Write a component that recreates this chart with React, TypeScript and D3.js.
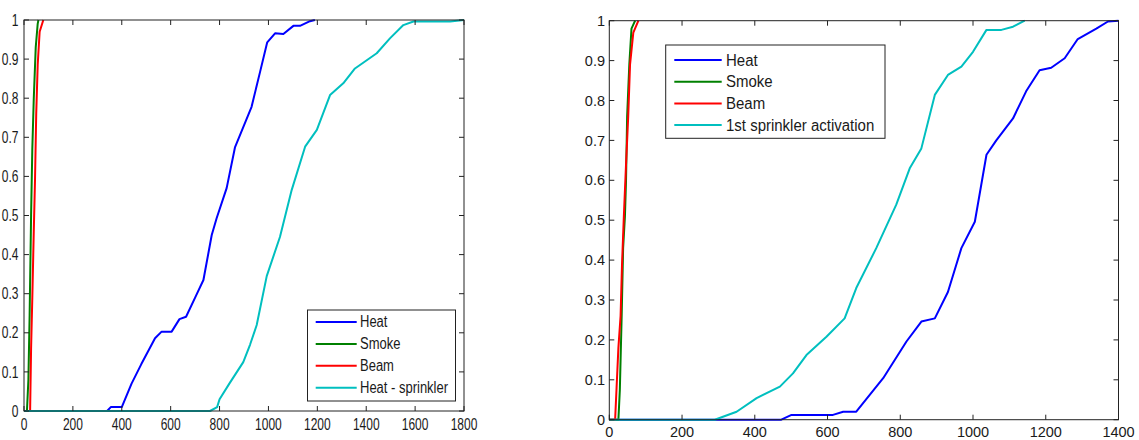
import React from "react";
import * as d3 from "d3";

type Pt = [number, number];

// ---------- Data (left panel) ----------
const leftXTicks = [0, 200, 400, 600, 800, 1000, 1200, 1400, 1600, 1800];
const yTicks = [0, 0.1, 0.2, 0.3, 0.4, 0.5, 0.6, 0.7, 0.8, 0.9, 1];

const leftHeat: Pt[] = [
  [0, 0], [340, 0], [355, 0.01], [400, 0.01], [440, 0.07], [480, 0.12], [536, 0.186],
  [563, 0.203], [604, 0.203], [636, 0.235], [663, 0.241], [700, 0.29], [734, 0.335],
  [768, 0.45], [788, 0.493], [829, 0.57], [863, 0.674], [931, 0.778], [966, 0.868],
  [995, 0.943], [1027, 0.966], [1061, 0.964], [1102, 0.985], [1129, 0.985], [1170, 0.997], [1190, 1],
];
const leftSmoke: Pt[] = [
  [0, 0], [12, 0], [18, 0.08], [23, 0.245], [29, 0.5], [34, 0.67], [40, 0.8], [48, 0.93], [56, 0.99], [59, 1],
];
const leftBeam: Pt[] = [
  [0, 0], [25, 0], [29, 0.16], [34, 0.29], [40, 0.46], [45, 0.59], [50, 0.76], [56, 0.885], [64, 0.97], [79, 1],
];
const leftHeatSprinkler: Pt[] = [
  [0, 0], [761, 0], [790, 0.01], [800, 0.03], [840, 0.07], [897, 0.125], [925, 0.17], [952, 0.22],
  [993, 0.345], [1047, 0.445], [1095, 0.565], [1150, 0.676], [1198, 0.719], [1252, 0.808],
  [1306, 0.838], [1354, 0.876], [1443, 0.915], [1497, 0.953], [1552, 0.987], [1593, 0.996],
  [1743, 0.996], [1800, 1],
];
const leftLabels = ["Heat", "Smoke", "Beam", "Heat - sprinkler"];

// ---------- Data (right panel) ----------
const rightXTicks = [0, 200, 400, 600, 800, 1000, 1200, 1400];
const rightHeat: Pt[] = [
  [0, 0], [473, 0], [501, 0.012], [615, 0.012], [643, 0.02], [679, 0.02], [753, 0.104], [817, 0.196],
  [858, 0.246], [895, 0.254], [931, 0.32], [968, 0.43], [1005, 0.496], [1037, 0.664], [1064, 0.7],
  [1110, 0.755], [1146, 0.823], [1183, 0.876], [1215, 0.882], [1252, 0.906], [1288, 0.954],
  [1339, 0.98], [1371, 0.998], [1400, 1],
];
const rightSmoke: Pt[] = [
  [0, 0], [25, 0], [29, 0.075], [34, 0.26], [38, 0.43], [43, 0.51], [46, 0.6], [49, 0.76], [55, 0.89], [61, 0.98], [71, 1],
];
const rightBeam: Pt[] = [
  [0, 0], [16, 0], [20, 0.08], [25, 0.18], [31, 0.26], [35, 0.39], [40, 0.51], [46, 0.64], [52, 0.76], [57, 0.89], [66, 0.97], [80, 1],
];
const rightSprinkler: Pt[] = [
  [0, 0], [290, 0], [350, 0.02], [405, 0.054], [469, 0.083], [505, 0.116], [542, 0.162], [597, 0.208],
  [647, 0.254], [679, 0.33], [734, 0.43], [789, 0.539], [826, 0.63], [858, 0.68], [895, 0.814],
  [931, 0.864], [968, 0.885], [1000, 0.922], [1037, 0.977], [1078, 0.977], [1110, 0.985], [1142, 1],
];
const rightLabels = ["Heat", "Smoke", "Beam", "1st sprinkler activation"];

const colors = ["#0000ff", "#008000", "#ff0000", "#00bfbf"];
const FONT = "'Liberation Sans', Arial, Helvetica, sans-serif";

function T(props: {
  x: number; y: number; anchor?: string; size: number; sy: number; children: React.ReactNode;
}) {
  const { x, y, anchor = "start", size, sy, children } = props;
  return (
    <text
      transform={`translate(${x},${y}) scale(1,${sy})`}
      textAnchor={anchor}
      dominantBaseline="central"
      fontSize={size}
      fontFamily={FONT}
      fill="#1a1a1a"
    >
      {children}
    </text>
  );
}

interface PanelProps {
  box: { x0: number; x1: number; y0: number; y1: number };
  xMax: number;
  xTicks: number[];
  series: Pt[][];
  labels: string[];
  tickFont: number;
  tickSy: number;
  xLabelY: number;
  yLabelX: number;
  legend: { x0: number; y0: number; w: number; h: number; row0: number; rowStep: number; lx0: number; lx1: number; tx: number; font: number; sy: number };
}

function Panel(p: PanelProps) {
  const { box } = p;
  const x = d3.scaleLinear().domain([0, p.xMax]).range([box.x0, box.x1]);
  const y = d3.scaleLinear().domain([0, 1]).range([box.y1, box.y0]);
  const line = d3.line<Pt>().x((d) => x(d[0])).y((d) => y(d[1]));
  const tl = 5;
  const L = p.legend;
  return (
    <g>
      {p.series.map((s, i) => (
        <path key={i} d={line(s) || ""} fill="none" stroke={colors[i]} strokeWidth={2} strokeLinejoin="round" />
      ))}
      <rect x={box.x0} y={box.y0} width={box.x1 - box.x0} height={box.y1 - box.y0} fill="none" stroke="#222" strokeWidth={1} />
      {p.xTicks.map((t) => (
        <g key={"x" + t}>
          <line x1={x(t)} x2={x(t)} y1={box.y1} y2={box.y1 - tl} stroke="#222" />
          <line x1={x(t)} x2={x(t)} y1={box.y0} y2={box.y0 + tl} stroke="#222" />
          <T x={x(t)} y={p.xLabelY} anchor="middle" size={p.tickFont} sy={p.tickSy}>{String(t)}</T>
        </g>
      ))}
      {yTicks.map((t) => (
        <g key={"y" + t}>
          <line x1={box.x0} x2={box.x0 + tl} y1={y(t)} y2={y(t)} stroke="#222" />
          <line x1={box.x1} x2={box.x1 - tl} y1={y(t)} y2={y(t)} stroke="#222" />
          <T x={p.yLabelX} y={y(t)} anchor="end" size={p.tickFont} sy={p.tickSy}>{d3.format("~g")(t)}</T>
        </g>
      ))}
      <rect x={L.x0} y={L.y0} width={L.w} height={L.h} fill="#fff" stroke="#222" strokeWidth={1} />
      {p.labels.map((lab, i) => {
        const ry = L.row0 + i * L.rowStep;
        return (
          <g key={lab}>
            <line x1={L.lx0} x2={L.lx1} y1={ry} y2={ry} stroke={colors[i]} strokeWidth={2} />
            <T x={L.tx} y={ry} size={L.font} sy={L.sy}>{lab}</T>
          </g>
        );
      })}
    </g>
  );
}

export default function App() {
  return (
    <svg
      width={1139}
      height={440}
      style={{ position: "absolute", left: 0, top: 0, background: "#fff" }}
    >
      <rect x={0} y={0} width={1139} height={440} fill="#fff" />
      <Panel
        box={{ x0: 24, x1: 464, y0: 20, y1: 411 }}
        xMax={1800}
        xTicks={leftXTicks}
        series={[leftHeat, leftSmoke, leftBeam, leftHeatSprinkler]}
        labels={leftLabels}
        tickFont={12}
        tickSy={1.35}
        xLabelY={424.5}
        yLabelX={18.5}
        legend={{ x0: 307.5, y0: 310, w: 148, h: 91, row0: 322, rowStep: 21.9, lx0: 315.7, lx1: 356.7, tx: 360, font: 13, sy: 1.2 }}
      />
      <Panel
        box={{ x0: 609.3, x1: 1118.5, y0: 20.7, y1: 419.7 }}
        xMax={1400}
        xTicks={rightXTicks}
        series={[rightHeat, rightSmoke, rightBeam, rightSprinkler]}
        labels={rightLabels}
        tickFont={14.5}
        tickSy={1.05}
        xLabelY={432}
        yLabelX={605}
        legend={{ x0: 665.7, y0: 45, w: 219.3, h: 93.3, row0: 60, rowStep: 21.7, lx0: 674.3, lx1: 721.7, tx: 726, font: 15, sy: 1.07 }}
      />
    </svg>
  );
}
